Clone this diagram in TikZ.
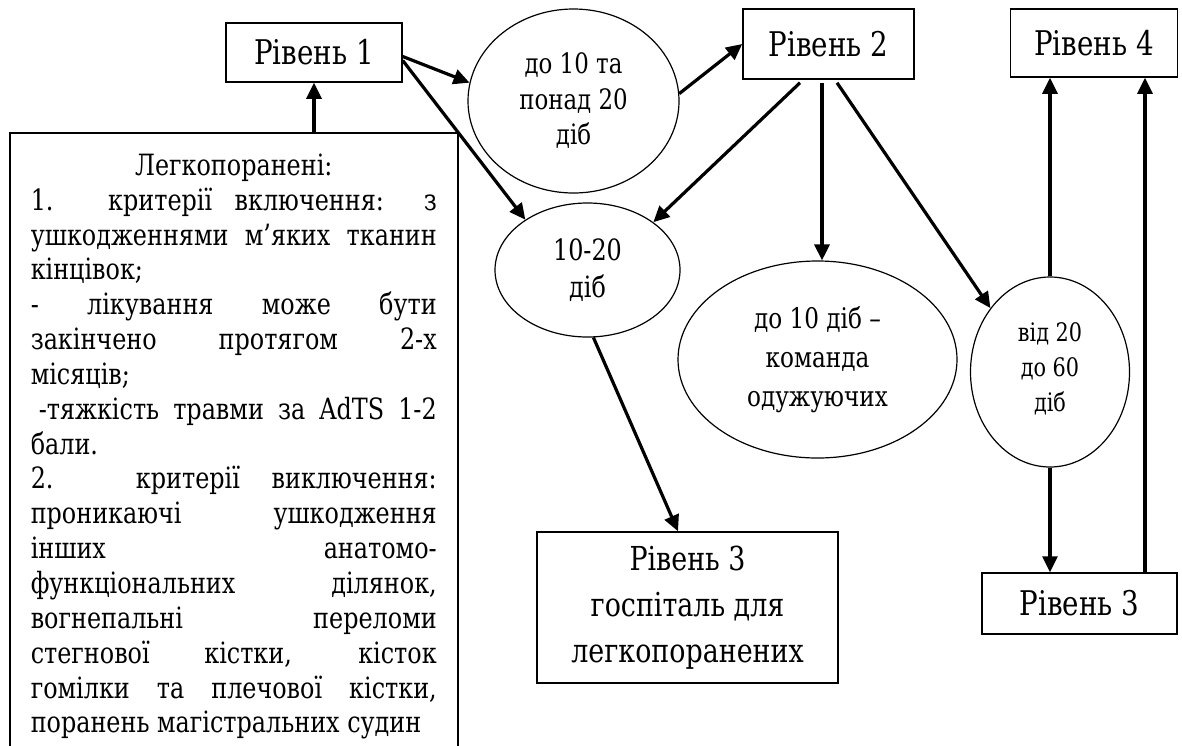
\documentclass[tikz,border=0pt]{standalone}
\usepackage{fontspec}
\setmainfont{DejaVu Serif}[FakeStretch=0.815]
\usetikzlibrary{shapes.geometric,arrows.meta}
\begin{document}
\begin{tikzpicture}[x=1pt,y=-1pt,
  lvl/.style={draw, line width=1.5pt, inner sep=0pt, font=\fontsize{34}{40}\selectfont, align=center},
  oval/.style={draw, ellipse, line width=1.2pt, inner sep=0pt, align=center},
  arr/.style={line width=3.2pt, -{Triangle[length=16pt,width=15pt]}},
  critbox/.style={draw, line width=1.5pt, anchor=north west, inner xsep=21pt, inner ysep=21pt, font=\fontsize{29.3}{34.85}\selectfont}
]
\useasboundingbox (0,0) rectangle (1182,745);
\clip (0,0) rectangle (1182,745);

\node[lvl, minimum width=176pt, minimum height=59pt] (r1) at (314,52.5) {Рівень 1};
\node[lvl, minimum width=171pt, minimum height=70pt] (r2) at (828.5,44) {Рівень 2};
\node[lvl, minimum width=167pt, minimum height=68pt] (r4) at (1094,43) {Рівень 4};
\node[lvl, minimum width=195pt, minimum height=61pt] (r3b) at (1079.5,603.5) {Рівень 3};
\node[lvl, minimum width=301pt, minimum height=151pt, font=\fontsize{33}{46}\selectfont] (hosp) at (687.5,607.5) {Рівень 3\\госпіталь для\\легкопоранених};

\node[oval, minimum width=211pt, minimum height=184pt, font=\fontsize{28.1}{35.5}\selectfont] (A) at (573.5,101) {до 10 та\\понад 20\\діб};
\node[oval, minimum width=185pt, minimum height=134pt, font=\fontsize{29.3}{37}\selectfont] (B) at (587.5,270) {10-20\\діб};
\node[oval, minimum width=279pt, minimum height=197pt, font=\fontsize{28.4}{39}\selectfont] (C) at (817.5,359.5) {до 10 діб –\\команда\\одужуючих};
\node[oval, minimum width=159pt, minimum height=190pt, font=\fontsize{25.5}{35}\selectfont] (D) at (1050,372) {від 20\\до 60\\діб\rule[-10pt]{0pt}{10pt}};

\node[critbox] (crit) at (9,132) {\parbox[t][640pt][t]{406pt}{%
\makebox[\linewidth][c]{Легкопоранені:}\\
\makebox[\linewidth][s]{1. критерії включення: з}\\
\makebox[\linewidth][s]{ушкодженнями м’яких тканин}\\
кінцівок;\\
\makebox[\linewidth][s]{- лікування може бути}\\
\makebox[\linewidth][s]{закінчено протягом 2-х}\\
місяців;\\
\makebox[\linewidth][s]{\hspace{8pt}-тяжкість травми за AdTS 1-2}\\
бали.\\
\makebox[\linewidth][s]{2. критерії виключення:}\\
\makebox[\linewidth][s]{проникаючі ушкодження}\\
\makebox[\linewidth][s]{інших анатомо-}\\
\makebox[\linewidth][s]{функціональних ділянок,}\\
\makebox[\linewidth][s]{вогнепальні переломи}\\
\makebox[\linewidth][s]{стегнової кістки, кісток}\\
\makebox[\linewidth][s]{гомілки та плечової кістки,}\\
\makebox[\linewidth][l]{поранень магістральних судин}}};

\draw[arr] (r1.south |- crit.north) -- (r1.south);
\draw[arr] ([yshift=-4pt]r1.east) -- (A.170);
\draw[arr] ([yshift=-8pt]r1.east) -- (B.141);
\draw[arr] (A.4) -- (r2.west);
\draw[arr] ([xshift=-28.5pt,yshift=-3pt]r2.south) -- (B.36);
\coordinate (s2) at ([xshift=-6.5pt,yshift=-3pt]r2.south);
\draw[arr] (s2) -- (C.north -| s2);
\draw[arr] ([xshift=8.5pt,yshift=-3pt]r2.south) -- (D.133);
\draw[arr] (B.-85) -- ([xshift=-9.5pt]hosp.north);
\draw[arr] (D.north) -- (D.north |- r4.south);
\draw[arr] (D.south) -- (D.south |- r3b.north);
\coordinate (s3) at ([xshift=65.5pt]r3b.north);
\draw[arr] (s3) -- (s3 |- r4.south);
\end{tikzpicture}
\end{document}
